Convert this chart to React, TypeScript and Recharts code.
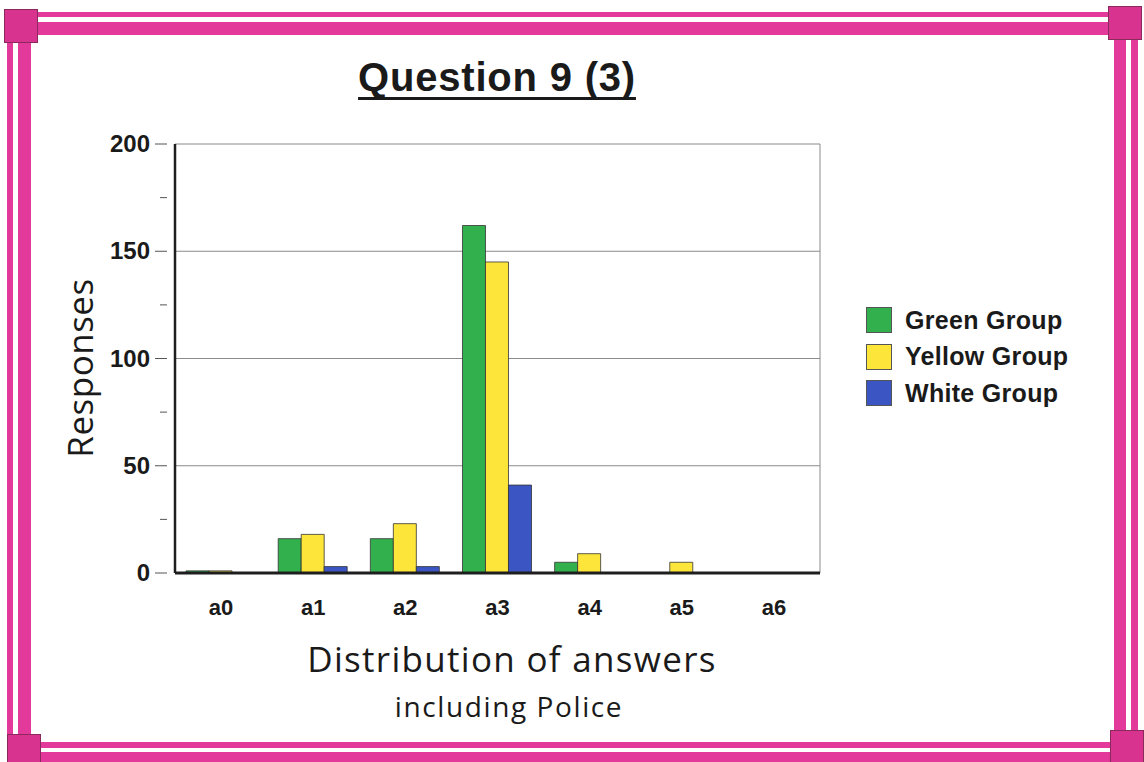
import { BarChart, Bar, XAxis, YAxis, CartesianGrid } from 'recharts';

const categories = ['a0', 'a1', 'a2', 'a3', 'a4', 'a5', 'a6'];
const greenGroup = [1, 16, 16, 162, 5, 0, 0];
const yellowGroup = [1, 18, 23, 145, 9, 5, 0];
const whiteGroup = [0, 3, 3, 41, 0, 0, 0];
const yTicks = [0, 25, 50, 75, 100, 125, 150, 175, 200];
const gridValues = [50, 100, 150, 200];

const series = [
  { key: 'green', name: 'Green Group', color: '#33b04e' },
  { key: 'yellow', name: 'Yellow Group', color: '#fde53a' },
  { key: 'white', name: 'White Group', color: '#3b56c2' },
];

const data = categories.map((c, i) => ({
  name: c,
  green: greenGroup[i],
  yellow: yellowGroup[i],
  white: whiteGroup[i],
}));

const PINK = '#e2399a';
const EDGE = '#8a2a5c';
const BOLD_FONT = 'Liberation Sans, Arial, sans-serif';
const LIGHT_FONT = 'Open Sans, DejaVu Sans, sans-serif';

function YTick(props: any) {
  const { x, y, payload } = props;
  const major = payload.value % 50 === 0;
  return (
    <g>
      <line x1={x - (major ? 12 : 7)} x2={x} y1={y} y2={y} stroke="#555" strokeWidth={1} />
      {major && (
        <text x={x - 17} y={y} dy={8} textAnchor="end" fontSize={24} fontWeight="bold" fill="#1a1a1a" fontFamily={BOLD_FONT}>
          {payload.value}
        </text>
      )}
    </g>
  );
}

function LegendBox() {
  return (
    <div style={{ position: 'absolute', left: 866, top: 302, fontFamily: BOLD_FONT }}>
      {series.map((s) => (
        <div key={s.key} style={{ display: 'flex', alignItems: 'center', height: 36.5 }}>
          <div style={{ width: 26, height: 26, background: s.color, border: '1px solid #555', boxSizing: 'border-box', marginRight: 13 }} />
          <span style={{ fontSize: 25, fontWeight: 'bold', color: '#1a1a1a', letterSpacing: 0.3 }}>{s.name}</span>
        </div>
      ))}
    </div>
  );
}

function Frame() {
  const band = (style: React.CSSProperties) => <div style={{ position: 'absolute', background: PINK, ...style }} />;
  const white = (style: React.CSSProperties) => <div style={{ position: 'absolute', background: '#fff', ...style }} />;
  const corner = (left: number, top: number) => (
    <div style={{ position: 'absolute', left, top, width: 34, height: 34, background: '#d8338f', border: `1px solid ${EDGE}`, boxSizing: 'border-box' }} />
  );
  return (
    <>
      {band({ left: 30, top: 12, width: 1086, height: 23 })}
      {white({ left: 30, top: 17, width: 1086, height: 5 })}
      {band({ left: 30, top: 742, width: 1086, height: 20 })}
      {white({ left: 30, top: 748, width: 1086, height: 4 })}
      {band({ left: 7, top: 40, width: 24, height: 696 })}
      {white({ left: 13, top: 40, width: 5, height: 696 })}
      {band({ left: 1114, top: 36, width: 24, height: 700 })}
      {white({ left: 1126, top: 36, width: 5, height: 700 })}
      {corner(4, 9)}
      {corner(1108, 6)}
      {corner(7, 734)}
      {corner(1110, 730)}
    </>
  );
}

export default function App() {
  return (
    <div style={{ position: 'absolute', left: 0, top: 0, width: 1144, height: 762, background: '#fff', overflow: 'hidden' }}>
      <Frame />
      <div
        style={{
          position: 'absolute', left: 0, width: 994, top: 55, textAlign: 'center',
          fontFamily: BOLD_FONT, fontSize: 40, fontWeight: 'bold', letterSpacing: 0.8,
          textDecoration: 'underline', textDecorationThickness: 3, textUnderlineOffset: 6,
          textDecorationSkipInk: 'none', color: '#1a1a1a',
        }}
      >
        Question 9 (3)
      </div>
      <div
        style={{
          position: 'absolute', left: 79, top: 368, transform: 'translate(-50%, -50%) rotate(-90deg)',
          fontFamily: LIGHT_FONT, fontSize: 35, letterSpacing: 0.5, color: '#1a1a1a', whiteSpace: 'nowrap',
        }}
      >
        Responses
      </div>
      <div
        style={{
          position: 'absolute', left: 0, width: 1024, top: 635, textAlign: 'center',
          fontFamily: LIGHT_FONT, fontSize: 35, letterSpacing: 1.3, color: '#1a1a1a',
        }}
      >
        Distribution of answers
      </div>
      <div
        style={{
          position: 'absolute', left: 0, width: 1018, top: 687, textAlign: 'center',
          fontFamily: LIGHT_FONT, fontSize: 28, letterSpacing: 1.6, color: '#1a1a1a',
        }}
      >
        including Police
      </div>
      <LegendBox />
      <div style={{ position: 'absolute', left: 0, top: 0 }}>
        <BarChart
          width={1144}
          height={762}
          data={data}
          margin={{ top: 144, right: 324, bottom: 159, left: 115 }}
          barCategoryGap="12%"
          barGap={0}
        >
          <CartesianGrid
            horizontalValues={gridValues}
            verticalCoordinatesGenerator={({ offset }: any) => [offset.left + offset.width]}
            stroke="#8a8a8a"
            strokeWidth={1}
          />
          <XAxis
            dataKey="name"
            height={30}
            axisLine={{ stroke: '#1e1e1e', strokeWidth: 3 }}
            tickLine={false}
            tick={{ fontSize: 22, fontWeight: 'bold', fill: '#1a1a1a', fontFamily: BOLD_FONT, dy: 18 }}
          />
          <YAxis
            width={60}
            domain={[0, 200]}
            ticks={yTicks}
            interval={0}
            axisLine={{ stroke: '#1e1e1e', strokeWidth: 2.5 }}
            tickLine={false}
            tick={<YTick />}
          />
          {series.map((s) => (
            <Bar key={s.key} dataKey={s.key} name={s.name} fill={s.color} stroke="#333" strokeWidth={0.8} isAnimationActive={false} />
          ))}
        </BarChart>
      </div>
    </div>
  );
}
